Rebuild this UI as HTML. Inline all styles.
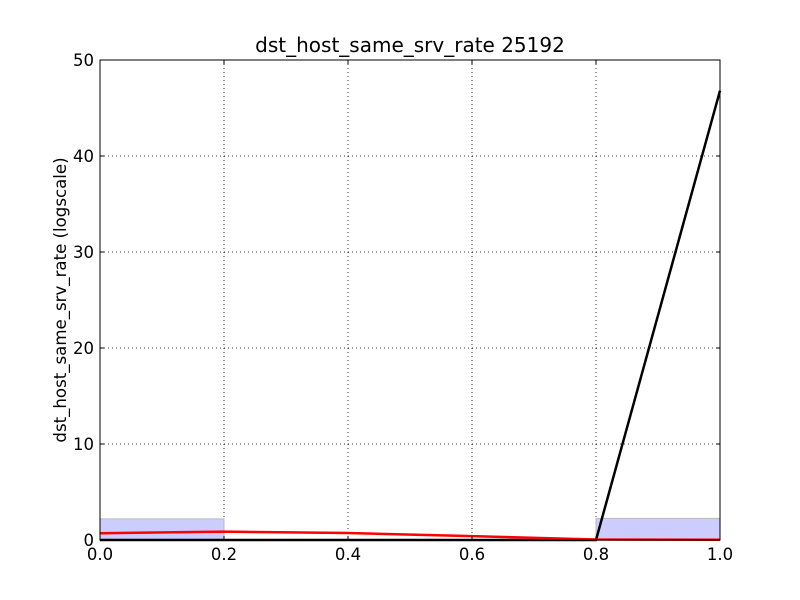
<!DOCTYPE html>
<html><head><meta charset="utf-8"><style>body{margin:0;background:#fff}svg{display:block;font-family:"DejaVu Sans","Liberation Sans",sans-serif}</style></head>
<body>
<svg id="chart" width="800" height="600">
<rect width="800" height="600" fill="#fff"/>
<text x="410" y="52" font-size="20" text-anchor="middle">dst_host_same_srv_rate 25192</text>
<text transform="translate(66,300) rotate(-90)" font-size="16.6" text-anchor="middle">dst_host_same_srv_rate (logscale)</text>
<g id="grid"></g><g id="bars"></g><g id="lines"></g><g id="ticks"></g>
<rect x="100" y="60" width="620" height="480" fill="none" stroke="#000" stroke-width="1"/>
</svg>
<script>
const xTicks=[0,0.2,0.4,0.6,0.8,1.0];
const xTickLabels=["0.0","0.2","0.4","0.6","0.8","1.0"];
const yTicks=[0,10,20,30,40,50];
const binStarts=[0,0.8];
const binEnds=[0.2,1.0];
const binHeights=[2.2,2.25];
const blackX=[0,0.2,0.4,0.6,0.8,1.0];
const blackY=[0,0,0,0,0,46.8];
const redX=[0,0.2,0.4,0.6,0.8,1.0];
const redY=[0.7,0.87,0.73,0.4,0.05,0.03];
const NS="http://www.w3.org/2000/svg";
const X=v=>100+v*620, Y=v=>540-v*9.6;
function mk(t,a,p){const e=document.createElementNS(NS,t);for(const k in a)e.setAttribute(k,a[k]);document.getElementById(p).appendChild(e);return e;}
xTicks.forEach((v,i)=>{
 if(i>0&&i<xTicks.length-1){const g=mk('line',{x1:X(v),x2:X(v),y1:60,y2:540,stroke:'#000','stroke-dasharray':'1,3','stroke-width':0.8},'grid');
 
 }
 mk('line',{x1:X(v),x2:X(v),y1:540,y2:536,stroke:'#000'},'ticks');
 mk('line',{x1:X(v),x2:X(v),y1:60,y2:64,stroke:'#000'},'ticks');
 const t=mk('text',{x:X(v),y:560,'font-size':16.5,'text-anchor':'middle'},'ticks');t.textContent=xTickLabels[i];
 
 
});
yTicks.forEach(v=>{
 if(v>0&&v<50){const g=mk('line',{x1:100,x2:720,y1:Y(v),y2:Y(v),stroke:'#000','stroke-dasharray':'1,3','stroke-width':0.8},'grid');
 
 }
 mk('line',{x1:100,x2:104,y1:Y(v),y2:Y(v),stroke:'#000'},'ticks');
 mk('line',{x1:716,x2:720,y1:Y(v),y2:Y(v),stroke:'#000'},'ticks');
 const t=mk('text',{x:94,y:Y(v)+6,'font-size':16.5,'text-anchor':'end'},'ticks');t.textContent=v;
 
 
});
binHeights.forEach((h,i)=>{
 const r=mk('rect',{x:X(binStarts[i]),y:Y(h),width:X(binEnds[i])-X(binStarts[i]),height:Y(0)-Y(h),fill:'#ccccff',stroke:'#bbbbbb','stroke-width':1},'bars');
 
 
});
const bl=mk('polyline',{points:blackX.map((x,i)=>X(x)+','+Y(blackY[i])).join(' '),fill:'none',stroke:'#000','stroke-width':2.5},'lines');


const rl=mk('polyline',{points:redX.map((x,i)=>X(x)+','+Y(redY[i])).join(' '),fill:'none',stroke:'#ff0000','stroke-width':2.5},'lines');


</script>
</body></html>
